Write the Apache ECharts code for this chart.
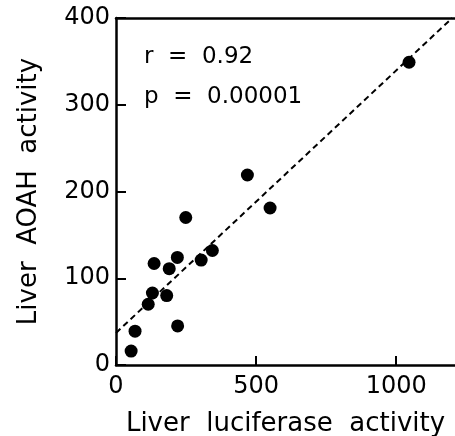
<!DOCTYPE html>
<html>
<head>
<meta charset="utf-8">
<title>Liver AOAH vs luciferase activity</title>
<script src="https://cdn.jsdelivr.net/npm/echarts@6/dist/echarts.min.js"></script>
<style>
    html, body { margin: 0; padding: 0; background: #fff; }
    #chart { width: 455px; height: 436px; }
</style>
</head>
<body>
<div id="chart"></div>
<script>
/* globals echarts */
// Liver luciferase activity (x) vs liver AOAH activity (y), one value per animal
var luciferase = [54, 68, 115, 130, 136, 181, 190, 219, 220, 249, 304, 344, 469, 550, 1046];
var aoah       = [16, 39, 70, 83, 117, 80, 111, 124, 45, 170, 121, 132, 219, 181, 349];

// ends of the dashed regression line
var fitX = [0, 1200];
var fitY = [37, 400];

var statLabels = ['r  =  0.92', 'p  =  0.00001'];

;(function (window) {
    'use strict';

    var FONT = 'DejaVu Sans';

    var points = luciferase.map(function (x, i) {
        return [x, aoah[i]];
    });
    var fit = fitX.map(function (x, i) {
        return [x, fitY[i]];
    });

    var chart = echarts.init(document.getElementById('chart'));

    chart.setOption({
        animation: false,
        grid: { left: 116, right: 0, top: 18, bottom: 71, outerBoundsMode: 'none' },
        xAxis: [{
            type: 'value',
            min: 0,
            max: 1210,
            interval: 500,
            name: 'Liver  luciferase  activity',
            nameLocation: 'middle',
            nameGap: 46,
            nameTextStyle: { fontFamily: FONT, fontSize: 26, color: '#000' },
            axisLine: { lineStyle: { color: '#000', width: 2.5 } },
            axisTick: { inside: true, length: 9, lineStyle: { color: '#000', width: 2 } },
            axisLabel: {
                showMaxLabel: false,
                fontFamily: FONT,
                fontSize: 24,
                color: '#000',
                margin: 10,
                formatter: function (v) { return String(v); }
            },
            splitLine: { show: false }
        }, {
            // top frame line only
            type: 'value',
            position: 'top',
            min: 0,
            max: 1210,
            axisLine: { show: true, lineStyle: { color: '#000', width: 2.5 } },
            axisTick: { show: false },
            axisLabel: { show: false },
            splitLine: { show: false }
        }],
        yAxis: {
            type: 'value',
            min: 0,
            max: 400,
            interval: 100,
            name: 'Liver  AOAH  activity',
            nameLocation: 'middle',
            nameGap: 74,
            nameTextStyle: { fontFamily: FONT, fontSize: 26, color: '#000' },
            axisLine: { show: true, lineStyle: { color: '#000', width: 2.5 } },
            axisTick: { inside: true, length: 10, lineStyle: { color: '#000', width: 2 } },
            axisLabel: { fontFamily: FONT, fontSize: 24, color: '#000', margin: 6 },
            splitLine: { show: false }
        },
        series: [{
            type: 'line',
            data: fit,
            symbol: 'none',
            silent: true,
            lineStyle: { color: '#000', width: 2, type: [6, 4] }
        }, {
            type: 'scatter',
            data: points,
            symbol: 'circle',
            symbolSize: 13,
            itemStyle: { color: '#000', opacity: 1 }
        }],
        graphic: statLabels.map(function (txt, i) {
            return {
                type: 'text',
                left: 144,
                top: 46 + i * 40,
                style: { text: txt, fontFamily: FONT, fontSize: 23, fill: '#000' }
            };
        })
    });

    window.addEventListener('resize', function () {
        chart.resize();
    });
}(window));
</script>
</body>
</html>
